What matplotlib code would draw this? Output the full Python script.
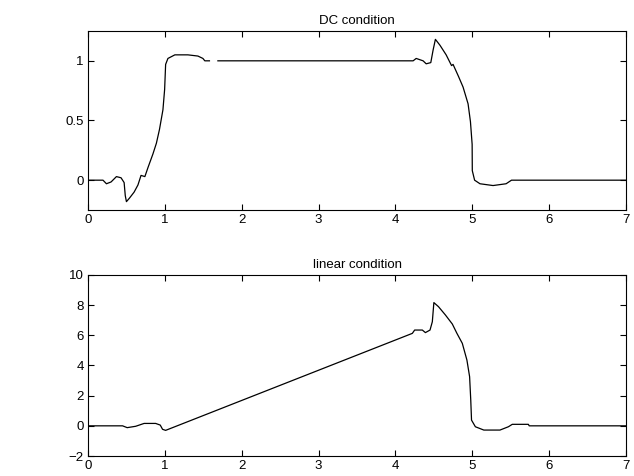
import numpy as np
from matplotlib import pyplot as plt

plt.rcParams['font.family'] = ['Liberation Sans', 'DejaVu Sans']
plt.rcParams['font.size'] = 9.5

# DC condition (nan marks the small gap in the trace)
dc_t = [0, 0.195, 0.24, 0.30, 0.37, 0.43, 0.47, 0.485, 0.50, 0.54, 0.60, 0.65,
        0.69, 0.74, 0.78, 0.845, 0.89, 0.93, 0.975, 0.997, 1.01, 1.04, 1.13,
        1.30, 1.43, 1.495, 1.52, 1.58, np.nan, 1.69, 4.23, 4.27, 4.36, 4.40,
        4.46, 4.49, 4.52, 4.58, 4.66, 4.73, 4.75, 4.82, 4.88, 4.945, 4.976,
        4.998, 5.0, 5.03, 5.10, 5.27, 5.44, 5.51, 7.0]
dc_v = [0, 0, -0.03, -0.015, 0.03, 0.02, -0.02, -0.13, -0.18, -0.15, -0.1,
        -0.04, 0.04, 0.03, 0.105, 0.22, 0.31, 0.425, 0.59, 0.76, 0.97, 1.02,
        1.05, 1.05, 1.04, 1.02, 1.0, 1.0, np.nan, 1.0, 1.0, 1.02, 1.0, 0.975,
        0.985, 1.09, 1.18, 1.13, 1.05, 0.96, 0.97, 0.87, 0.78, 0.64, 0.49,
        0.30, 0.08, 0.0, -0.03, -0.045, -0.03, 0.0, 0.0]

# linear condition
lin_t = [0, 0.45, 0.51, 0.62, 0.73, 0.88, 0.94, 0.97, 1.01, 4.22, 4.25, 4.35,
         4.39, 4.45, 4.48, 4.50, 4.56, 4.65, 4.74, 4.80, 4.87, 4.93, 4.965,
         4.98, 4.99, 5.04, 5.15, 5.36, 5.47, 5.52, 5.73, 5.74, 7.0]
lin_v = [0, 0, -0.12, -0.03, 0.16, 0.16, 0.05, -0.23, -0.3, 6.13, 6.35, 6.35,
         6.18, 6.35, 6.9, 8.17, 7.9, 7.35, 6.75, 6.13, 5.47, 4.36, 3.26,
         1.71, 0.38, -0.06, -0.28, -0.28, -0.06, 0.1, 0.1, 0.0, 0.0]

fig = plt.figure(figsize=(6.34, 4.76), dpi=100)
ax1 = fig.add_axes([0.1388, 0.5588, 0.8486, 0.3761])
ax2 = fig.add_axes([0.1388, 0.0420, 0.8486, 0.3803])

ax1.plot(dc_t, dc_v, color='black', lw=0.9)
ax1.set_xlim(0, 7)
ax1.set_ylim(-0.25, 1.25)
ax1.set_yticks([0, 0.5, 1])
ax1.set_yticklabels(['0', '0.5', '1'])
ax1.set_title('DC condition', fontsize=9.5, pad=5)

ax2.plot(lin_t, lin_v, color='black', lw=0.9)
ax2.set_xlim(0, 7)
ax2.set_ylim(-2, 10)
ax2.set_yticks(range(-2, 11, 2))
ax2.set_title('linear condition', fontsize=9.5, pad=5)

for ax in (ax1, ax2):
    ax.set_xticks(range(0, 8))
    ax.tick_params(direction='in', top=True, right=True, length=4, width=0.8,
                   labelsize=9.5, pad=3)
    for s in ax.spines.values():
        s.set_linewidth(0.8)

plt.savefig('out.png', dpi=100)
